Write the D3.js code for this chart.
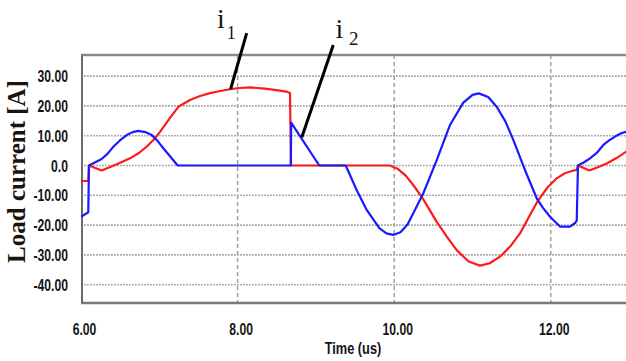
<!DOCTYPE html>
<html><head><meta charset="utf-8">
<script src="https://cdn.jsdelivr.net/npm/d3@7"></script>
<style>html,body{margin:0;padding:0;background:#fff;overflow:hidden;} svg{display:block;}</style>
</head><body>
<svg id="chart" width="626" height="361"></svg>
<script>
// ---- data (time in us, current in A) ----
const time1 = [6.000,6.093,6.102,6.264,6.45,6.626,6.74,6.839,6.93,7.009,7.137,7.243,7.392,7.52,7.648,7.78,7.903,8.03,8.158,8.35,8.541,8.62,8.669,8.682,9.946,10.05,10.15,10.25,10.351,10.45,10.543,10.67,10.798,10.95,11.096,11.22,11.351,11.48,11.607,11.72,11.840,11.96,12.075,12.18,12.287,12.331,12.347,12.492,12.60,12.714,12.84,12.960,13.05];
const current1 = [-5.2,-5.2,0.0,-1.7,0.3,2.4,4.2,6.3,8.7,11.3,16.0,19.7,22.0,23.3,24.3,25.0,25.6,26.0,26.2,25.8,25.1,24.8,24.3,0.0,0.0,-1.2,-3.5,-6.8,-10.5,-14.8,-18.9,-23.8,-28.4,-32.2,-33.6,-32.8,-30.6,-27.2,-22.8,-17.3,-11.6,-7.3,-4.3,-2.6,-1.7,-1.5,0.0,-1.7,-0.6,0.7,2.5,4.6,6.0];
const time2 = [6.000,6.093,6.102,6.264,6.34,6.413,6.50,6.584,6.66,6.732,6.82,6.903,6.98,7.051,7.14,7.235,8.680,8.684,9.043,9.381,9.52,9.649,9.81,9.90,9.989,10.08,10.17,10.244,10.372,10.543,10.713,10.88,11.00,11.08,11.20,11.309,11.42,11.521,11.67,11.820,11.90,11.990,12.117,12.245,12.31,12.331,12.347,12.42,12.501,12.59,12.671,12.75,12.820,12.90,12.960,13.05];
const current2 = [-17.2,-15.7,0.0,2.2,4.0,6.3,8.5,10.2,11.2,11.6,11.2,10.2,8.2,5.8,3.0,0.0,0.0,14.4,0.0,0.0,-8.2,-14.9,-21.0,-22.8,-23.3,-22.4,-19.8,-16.0,-9.3,1.8,13.6,21.0,23.7,24.2,23.0,19.7,14.8,8.6,-1.5,-11.0,-14.2,-17.2,-20.5,-20.5,-19.3,-18.5,0.0,1.0,2.4,4.3,6.9,8.5,9.7,10.8,11.3,11.8];
const xTicks = [6, 8, 10, 12];
const xTickLabels = ["6.00", "8.00", "10.00", "12.00"];
const yTicks = [30, 20, 10, 0, -10, -20, -30, -40];
const yTickLabels = ["30.00", "20.00", "10.00", "0.0", "-10.00", "-20.00", "-30.00", "-40.00"];
const seriesNames = ["1", "2"];
// annotation leader lines: [start time, start value, end time, end value]
const leader1 = [8.116, 44.4, 7.91, 25.6];
const leader2 = [9.222, 40.4, 8.82, 9.5];

// ---- layout ----
const W = 626, H = 361;
const pLeft = 81, pTop = 55, pBottom = 303;
const svg = d3.select("#chart");
svg.append("rect").attr("width", W).attr("height", H).attr("fill", "#fff");

const x = d3.scaleLinear().domain([6, 14]).range([81, 81 + 8 * 78.3]);
const y = d3.scaleLinear().domain([-40, 30]).range([284.7, 76.1]);

svg.append("defs").append("clipPath").attr("id", "plotclip")
  .append("rect").attr("x", pLeft).attr("y", pTop).attr("width", W - pLeft).attr("height", pBottom - pTop);

// gridlines
const grid = svg.append("g");
grid.selectAll("line.h").data(yTicks).join("line")
  .attr("x1", pLeft).attr("x2", W).attr("y1", d => y(d)).attr("y2", d => y(d))
  .attr("stroke", "#a4a4a4").attr("stroke-width", 1.6).attr("stroke-dasharray", "1.8,1.2");
grid.selectAll("line.v").data(xTicks.slice(1)).join("line")
  .attr("x1", d => x(d)).attr("x2", d => x(d)).attr("y1", pTop).attr("y2", pBottom)
  .attr("stroke", "#a0a0a0").attr("stroke-width", 1.5).attr("stroke-dasharray", "4,3");

// frame
svg.append("line").attr("x1", pLeft).attr("x2", W).attr("y1", pTop).attr("y2", pTop)
  .attr("stroke", "#8a8a8a").attr("stroke-width", 2.5);
svg.append("line").attr("x1", pLeft).attr("x2", W).attr("y1", pBottom).attr("y2", pBottom)
  .attr("stroke", "#7a7a7a").attr("stroke-width", 2.5);
svg.append("line").attr("x1", pLeft + 1).attr("x2", pLeft + 1).attr("y1", pTop).attr("y2", pBottom)
  .attr("stroke", "#6a6a6a").attr("stroke-width", 2);

// axes
const yAxis = svg.append("g").attr("transform", `translate(${pLeft},0)`)
  .call(d3.axisLeft(y).tickValues(yTicks).tickSize(0).tickPadding(13)
    .tickFormat((d, i) => yTickLabels[i]));
yAxis.select(".domain").remove();
yAxis.selectAll("text")
  .attr("x", null).attr("dy", null)
  .attr("transform", "translate(-13,5.5) scale(0.76,1)")
  .attr("font-family", "Arial, 'Liberation Sans', sans-serif")
  .attr("font-size", 16).attr("font-weight", "bold").attr("fill", "#141414");

const xAxis = svg.append("g").attr("transform", `translate(0,${pBottom})`)
  .call(d3.axisBottom(x).tickValues(xTicks).tickSize(0)
    .tickFormat((d, i) => xTickLabels[i]));
xAxis.select(".domain").remove();
xAxis.selectAll("text")
  .attr("y", null).attr("dy", null)
  .attr("transform", "translate(3,32) scale(0.76,1)")
  .attr("font-family", "Arial, 'Liberation Sans', sans-serif")
  .attr("font-size", 16).attr("font-weight", "bold").attr("fill", "#141414");

svg.append("text").attr("transform", "translate(353,354) scale(0.8,1)")
  .attr("text-anchor", "middle")
  .attr("font-family", "Arial, 'Liberation Sans', sans-serif")
  .attr("font-size", 16).attr("font-weight", "bold").attr("fill", "#141414")
  .text("Time (us)");

svg.append("text").attr("transform", "translate(25,171.5) rotate(-90)")
  .attr("text-anchor", "middle")
  .attr("font-family", "'Times New Roman', 'Liberation Serif', serif")
  .attr("font-size", 25).attr("font-weight", "bold").attr("fill", "#1a1410")
  .text("Load current [A]");

// series
const plot = svg.append("g").attr("clip-path", "url(#plotclip)");
const line = (ts, vs) => d3.line().x((d, i) => x(ts[i])).y((d, i) => y(vs[i]))(vs);
plot.append("path").attr("d", line(time1, current1))
  .attr("fill", "none").attr("stroke", "#ff1a1a").attr("stroke-width", 2.2).attr("stroke-linejoin", "round");
plot.append("path").attr("d", line(time2, current2))
  .attr("fill", "none").attr("stroke", "#1a1aff").attr("stroke-width", 2.2).attr("stroke-linejoin", "round");

// annotations
[leader1, leader2].forEach(l => {
  svg.append("line").attr("x1", x(l[0])).attr("y1", y(l[1])).attr("x2", x(l[2])).attr("y2", y(l[3]))
    .attr("stroke", "#000").attr("stroke-width", 3);
});
const t1 = svg.append("text").attr("x", 217).attr("y", 28)
  .attr("font-family", "'Times New Roman', 'Liberation Serif', serif").attr("font-size", 28).attr("fill", "#141414");
t1.append("tspan").text("i");
t1.append("tspan").attr("font-size", 18).attr("dx", 2).attr("dy", 11).text(seriesNames[0]);
const t2 = svg.append("text").attr("x", 335.5).attr("y", 38)
  .attr("font-family", "'Times New Roman', 'Liberation Serif', serif").attr("font-size", 28).attr("fill", "#141414");
t2.append("tspan").text("i");
t2.append("tspan").attr("font-size", 19).attr("dx", 5.7).attr("dy", 7).text(seriesNames[1]);
</script>
</body></html>
